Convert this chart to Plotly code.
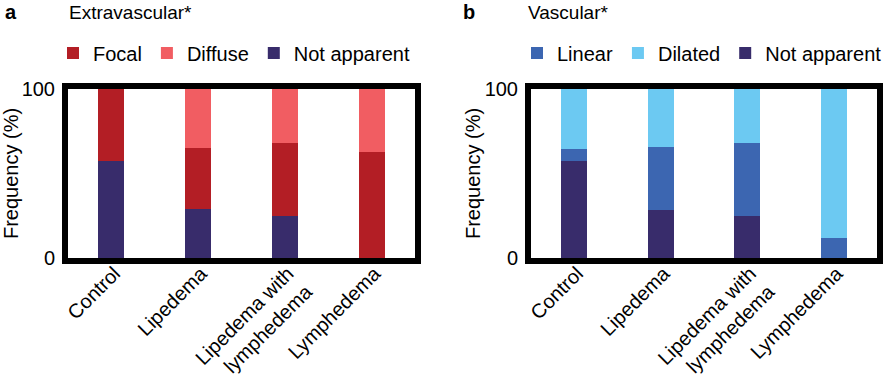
import plotly.graph_objects as go

categories = ["Control", "Lipedema", "Lipedema with<br>lymphedema", "Lymphedema"]

# Panel a: Extravascular (% per group, stacked)
extra_not_apparent = [57.4, 29.0, 25.0, 0.0]
extra_focal = [42.6, 35.9, 42.9, 62.5]
extra_diffuse = [0.0, 35.1, 32.1, 37.5]

# Panel b: Vascular (% per group, stacked)
vasc_not_apparent = [57.4, 28.6, 24.9, 0.0]
vasc_linear = [6.9, 36.9, 43.0, 11.6]
vasc_dilated = [35.7, 34.5, 32.1, 88.4]

yticks = [0, 100]

C_FOCAL = "#B31E25"
C_DIFFUSE = "#F15D62"
C_NA = "#382C6B"
C_LINEAR = "#3C66B1"
C_DILATED = "#6CC9F2"

FONT = "Liberation Sans, Arial, sans-serif"
W, H = 888, 384
ML, MR, MT, MB = 68, 11, 89, 126
PW = W - ML - MR
PH = H - MT - MB

def px_x(p):
    return (p - ML) / PW

def px_y(p):
    return 1 + (MT - p) / PH

fig = go.Figure()
BW = 0.3

def add(name, y, color, xa, ya, leg, rank):
    fig.add_trace(go.Bar(
        x=categories, y=y, name=name, marker=dict(color=color, line=dict(width=0)),
        width=BW, xaxis=xa, yaxis=ya, legend=leg, legendrank=rank,
    ))

add("Not apparent", extra_not_apparent, C_NA, "x", "y", "legend", 3)
add("Focal", extra_focal, C_FOCAL, "x", "y", "legend", 1)
add("Diffuse", extra_diffuse, C_DIFFUSE, "x", "y", "legend", 2)
add("Not apparent", vasc_not_apparent, C_NA, "x2", "y2", "legend2", 3)
add("Linear", vasc_linear, C_LINEAR, "x2", "y2", "legend2", 1)
add("Dilated", vasc_dilated, C_DILATED, "x2", "y2", "legend2", 2)

xa_common = dict(showline=True, linewidth=6, linecolor="black", mirror=True,
                 ticks="", tickangle=-45, showgrid=False, zeroline=False, automargin=False,
                 ticklabelstandoff=-10, ticklabelshift=3,
                 range=[-0.5, 3.5], tickfont=dict(size=20, color="black"))
ya_common = dict(showline=True, linewidth=6, linecolor="black", mirror=True,
                 ticks="", showgrid=False, zeroline=False, range=[0, 100], automargin=False,
                 ticklabelstandoff=3,
                 tickvals=yticks, tickfont=dict(size=20, color="black"),
                 title=dict(text="Frequency (%)", font=dict(size=20, color="black"), standoff=1))

dom_a = [0, px_x(415)]
dom_b = [px_x(531), 1]

leg_common = dict(orientation="h", yanchor="middle", xanchor="left",
                  xref="container", yref="container",
                  font=dict(size=20, color="black"), bgcolor="rgba(0,0,0,0)",
                  traceorder="normal", itemwidth=30)

fig.update_layout(
    width=W, height=H,
    margin=dict(l=ML, r=MR, t=MT, b=MB),
    paper_bgcolor="white", plot_bgcolor="white",
    font=dict(family=FONT, size=20, color="black"),
    barmode="stack", bargap=0,
    xaxis=dict(domain=dom_a, anchor="y", **xa_common),
    yaxis=dict(domain=[0, 1], anchor="x", **ya_common),
    xaxis2=dict(domain=dom_b, anchor="y2", **xa_common),
    yaxis2=dict(domain=[0, 1], anchor="x2", **ya_common),
    legend=dict(x=53 / W, y=1 - 53 / H, **leg_common),
    legend2=dict(x=517 / W, y=1 - 53 / H, **leg_common),
    annotations=[
        dict(text="<b>a</b>", x=px_x(3), y=px_y(12), xref="paper", yref="paper",
             xanchor="left", yanchor="middle", showarrow=False, font=dict(size=20)),
        dict(text="Extravascular*", x=px_x(67), y=px_y(12), xref="paper", yref="paper",
             xanchor="left", yanchor="middle", showarrow=False, font=dict(size=19)),
        dict(text="<b>b</b>", x=px_x(461), y=px_y(12), xref="paper", yref="paper",
             xanchor="left", yanchor="middle", showarrow=False, font=dict(size=20)),
        dict(text="Vascular*", x=px_x(526), y=px_y(12), xref="paper", yref="paper",
             xanchor="left", yanchor="middle", showarrow=False, font=dict(size=19)),
    ],
)

fig.write_html("out.html", config={"displayModeBar": False},
               post_script="document.body.style.margin='0px';document.body.style.overflow='hidden';")
